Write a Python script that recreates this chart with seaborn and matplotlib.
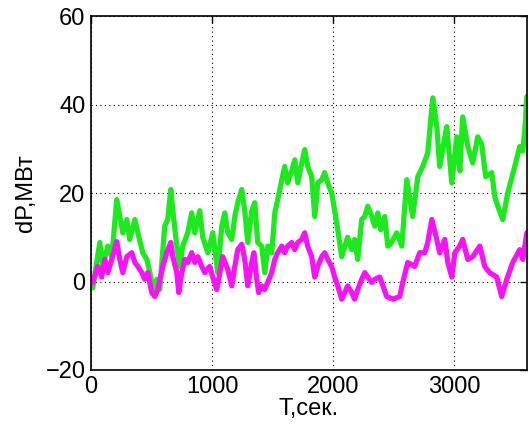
import matplotlib
matplotlib.use("Agg")
import matplotlib.pyplot as plt
import seaborn as sns
import pandas as pd

# Time (s) and power deviation (MW)
t_green = [15, 73, 97, 139, 172, 213, 263, 296, 320, 362, 387, 428, 461, 486, 511, 544, 568,
           609, 634, 659, 676, 709, 733, 758, 799, 832, 857, 898, 923, 965, 1006, 1047, 1080,
           1105, 1130, 1163, 1188, 1212, 1245, 1270, 1295, 1328, 1353, 1377, 1410, 1435, 1460,
           1493, 1518, 1542, 1576, 1600, 1625, 1658, 1683, 1708, 1741, 1765, 1790, 1823, 1848,
           1873, 1906, 1930, 1955, 1988, 2013, 2038, 2071, 2096, 2120, 2153, 2178, 2203, 2236,
           2261, 2286, 2319, 2344, 2369, 2393, 2426, 2451, 2475, 2525, 2567, 2608, 2657, 2699,
           2740, 2781, 2823, 2856, 2880, 2938, 2980, 3021, 3046, 3070, 3112, 3153, 3194, 3227,
           3260, 3310, 3335, 3360, 3401, 3442, 3500, 3541, 3566, 3583, 3600]
dp_green = [-1.4, 8.8, 3.4, 8.0, 5.6, 18.5, 11.0, 14.0, 9.5, 14.0, 11.0, 6.5, 5.0, 2.0, -1.8, 0.5, -1.8,
            12.5, 14.0, 20.8, 16.0, 8.0, 3.4, 8.0, 11.0, 15.5, 11.0, 16.0, 10.0, 6.5, 11.0, 2.0, 12.5,
            15.5, 11.0, 9.5, 14.7, 17.8, 20.8, 16.0, 8.8, 16.0, 17.8, 8.8, 8.0, 2.0, 8.0,
            6.5, 15.5, 18.5, 23.0, 26.0, 22.3, 25.0, 27.5, 22.3, 26.8, 29.8, 26.0, 23.7, 14.7,
            22.3, 23.0, 24.6, 22.3, 20.0, 16.0, 11.7, 5.6, 8.0, 10.0, 7.2, 9.5, 5.0, 14.0,
            14.7, 17.0, 14.7, 12.5, 15.5, 11.7, 14.7, 8.0, 8.5, 11.0, 8.0, 23.0, 14.7, 23.7,
            26.0, 29.0, 41.5, 35.0, 26.0, 35.0, 22.3, 32.7, 25.0, 37.2, 30.5, 26.8, 32.7, 31.0,
            23.7, 24.6, 19.2, 17.0, 14.0, 20.0, 26.0, 30.5, 29.5, 34.3, 41.8]

t_magenta = [15, 56, 89, 114, 139, 172, 213, 238, 263, 296, 337, 362, 387, 420, 444, 469, 502,
             527, 552, 593, 626, 659, 676, 709, 725, 750, 775, 799, 832, 857, 882, 915, 940,
             981, 1006, 1039, 1064, 1088, 1130, 1163, 1188, 1212, 1245, 1270, 1295, 1328, 1345,
             1369, 1385, 1410, 1435, 1460, 1493, 1518, 1542, 1576, 1600, 1625, 1658, 1683, 1708,
             1741, 1765, 1790, 1823, 1848, 1873, 1906, 1930, 1955, 1988, 2013, 2038, 2071, 2096,
             2120, 2153, 2178, 2203, 2236, 2261, 2286, 2319, 2344, 2385, 2443, 2493, 2550, 2575,
             2616, 2674, 2715, 2757, 2781, 2815, 2856, 2880, 2922, 2947, 2980, 3005, 3046, 3070,
             3112, 3153, 3211, 3252, 3293, 3351, 3392, 3434, 3483, 3541, 3566, 3600]
dp_magenta = [-0.2, 3.4, 1.0, 5.0, 2.0, 5.0, 9.0, 5.0, 2.0, 5.6, 6.5, 4.3, 3.4, 2.0, 0.5, 2.0, -2.5,
              -3.4, -1.8, 3.4, 6.5, 8.8, 5.6, 2.0, -2.5, 2.0, 5.0, 4.3, 6.5, 4.3, 5.6, 3.4, 2.0,
              3.4, 1.0, -1.8, 2.0, 5.6, 2.7, -1.0, 3.4, 7.2, 8.4, 5.0, -1.0, 4.3, 6.5,
              0.5, -2.5, -1.0, -1.8, -0.2, 2.0, 5.0, 6.5, 8.0, 6.5, 8.0, 8.8, 7.2, 8.8,
              9.5, 11.0, 8.0, 5.6, 1.0, 3.4, 5.6, 6.5, 5.0, 3.4, 1.0, -1.0, -4.0, -2.5,
              -1.0, -2.5, -4.0, -1.8, 0.5, 2.0, 1.0, -0.2, 0.5, 1.0, -3.4, -4.0, -3.4, -0.2,
              4.3, 3.4, 6.5, 6.5, 8.8, 14.0, 9.5, 6.5, 9.5, 4.3, 1.0, 6.5, 8.0, 9.5,
              5.0, 5.6, 8.0, 3.4, 2.0, 1.0, -3.4, 0.5, 4.3, 7.2, 5.0, 11.0]

x_ticks = [0, 1000, 2000, 3000]
y_ticks = [-20, 0, 20, 40, 60]

df_g = pd.DataFrame({"t": t_green, "dp": dp_green})
df_m = pd.DataFrame({"t": t_magenta, "dp": dp_magenta})

sns.set_style("white")
plt.rcParams["font.family"] = ["Liberation Sans", "DejaVu Sans"]
plt.rcParams["text.color"] = "black"
plt.rcParams["axes.labelcolor"] = "black"

fig = plt.figure(figsize=(5.29, 4.34), dpi=100)
ax = fig.add_axes([0.172, 0.1475, 0.824, 0.8155])

sns.lineplot(data=df_g, x="t", y="dp", ax=ax, color="#1ee81e", linewidth=3.8, estimator=None, sort=False)
sns.lineplot(data=df_m, x="t", y="dp", ax=ax, color="#f414f4", linewidth=3.8, estimator=None, sort=False)

ax.set_xlim(0, 3600)
ax.set_ylim(-20, 60)
ax.set_xticks(x_ticks)
ax.set_yticks(y_ticks)
ax.grid(True, color="black", linestyle=(0, (1, 3)), linewidth=0.8)
ax.tick_params(axis="both", direction="in", length=5, width=1, labelsize=17, colors="black",
               labelcolor="black", top=True, right=True, pad=4)
for s in ax.spines.values():
    s.set_visible(True)
    s.set_color("black")
    s.set_linewidth(1.2)

ax.set_xlabel("T,сек.", fontsize=17, labelpad=0, color="black")
ax.set_ylabel("dP,МВт", fontsize=17, labelpad=6, color="black")

fig.savefig("out.png", dpi=100)
